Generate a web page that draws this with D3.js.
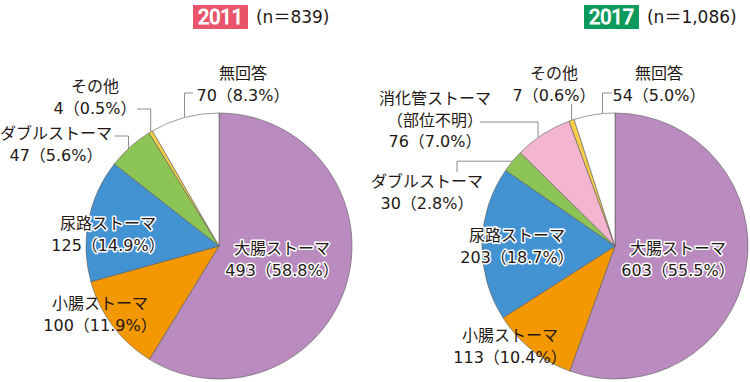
<!DOCTYPE html>
<html>
<head>
<meta charset="utf-8">
<script src="https://cdn.jsdelivr.net/npm/d3@7"></script>
<style>
  body { margin: 0; background: #fff; }
  svg { display: block; font-family: "DejaVu Sans", "Noto Sans CJK JP", sans-serif; }
</style>
</head>
<body>
<svg id="chart" width="750" height="382"></svg>
<script>
// data
const years = ["2011", "2017"];
const totals = ["839", "1,086"];
const cats2011 = ["大腸ストーマ", "小腸ストーマ", "尿路ストーマ", "ダブルストーマ", "その他", "無回答"];
const vals2011 = [493, 100, 125, 47, 4, 70];
const pcts2011 = ["58.8", "11.9", "14.9", "5.6", "0.5", "8.3"];
const cats2017 = ["大腸ストーマ", "小腸ストーマ", "尿路ストーマ", "ダブルストーマ", "消化管ストーマ", "その他", "無回答"];
const vals2017 = [603, 113, 203, 30, 76, 7, 54];
const pcts2017 = ["55.5", "10.4", "18.7", "2.8", "7.0", "0.6", "5.0"];

const colors = {
  "大腸ストーマ": "#b98bbe",
  "小腸ストーマ": "#f39800",
  "尿路ストーマ": "#4393d3",
  "ダブルストーマ": "#8cc455",
  "消化管ストーマ": "#f3b5d0",
  "その他": "#f8d048",
  "無回答": "#ffffff"
};
const badgeColors = ["#e9546b", "#0b9a5b"];
const textColor = "#231815";
const leaderColor = "#8c8c8c";

// layout for each pie: label position (center x, first baseline), and leader shape
const layouts = [
  {
    cx: 219, cy: 246, r: 133, badgeX: 193,
    labels: {
      "大腸ストーマ": { x: 282, y: 254, halo: true },
      "小腸ストーマ": { x: 100, y: 309, halo: false },
      "尿路ストーマ": { x: 108, y: 229, halo: true },
      "ダブルストーマ": { x: 56, y: 139, leader: { t: 0.45, type: "up", elbowY: 136, endX: 115 } },
      "その他": { x: 95, y: 92, leader: { t: 0.5, type: "up", elbowY: 109, endX: 137 } },
      "無回答": { x: 243, y: 79, leader: { t: 0.5, type: "up", elbowY: 93, endX: 193 } }
    }
  },
  {
    cx: 615, cy: 246, r: 133, badgeX: 584,
    labels: {
      "大腸ストーマ": { x: 678, y: 254, halo: true },
      "小腸ストーマ": { x: 510, y: 341, halo: false },
      "尿路ストーマ": { x: 517, y: 241, halo: true },
      "ダブルストーマ": { x: 427, y: 187, leader: { t: 0.5, type: "side", elbowX: 457, endY: 172 } },
      "消化管ストーマ": { x: 435, y: 104, extra: "（部位不明）", leader: { t: 0.4, type: "up", elbowY: 122, endX: 480 } },
      "その他": { x: 554, y: 79, leader: { t: 0.5, type: "up", elbowY: 104 } },
      "無回答": { x: 659, y: 79, leader: { t: 0.7, type: "up", elbowY: 93, endX: 612 } }
    }
  }
];

const svg = d3.select("#chart");
const pie = d3.pie().sort(null).value(d => d.value);

function drawPie(i, cats, vals, pcts) {
  const lay = layouts[i];
  const rows = cats.map((c, k) => ({ name: c, value: vals[k], pct: pcts[k] }));
  const arcs = pie(rows);
  const arc = d3.arc().innerRadius(0).outerRadius(lay.r);
  const g = svg.append("g");
  const pg = g.append("g").attr("transform", `translate(${lay.cx},${lay.cy})`);

  pg.selectAll("path")
    .data(arcs)
    .join("path")
    .attr("d", arc)
    .attr("fill", d => colors[d.data.name])
    .attr("stroke", "#5a5a5a")
    .attr("stroke-width", 0.6);

  // leader lines
  arcs.forEach(function(d) {
    const lab = lay.labels[d.data.name];
    if (!lab.leader) return;
    const ld = lab.leader;
    const a = d.startAngle + (d.endAngle - d.startAngle) * ld.t;
    const px = lay.cx + lay.r * Math.sin(a);
    const py = lay.cy - lay.r * Math.cos(a);
    let pts;
    if (ld.type == "up") {
      pts = [[px, py], [px, ld.elbowY]];
      if (ld.endX != undefined) pts.push([ld.endX, ld.elbowY]);
    } else {
      pts = [[px, py], [ld.elbowX, py], [ld.elbowX, ld.endY]];
    }
    g.append("path")
      .attr("d", d3.line()(pts))
      .attr("fill", "none")
      .attr("stroke", leaderColor)
      .attr("stroke-width", 1);
  });

  // labels
  arcs.forEach(function(d) {
    const lab = lay.labels[d.data.name];
    const lines = [d.data.name];
    if (lab.extra) lines.push(lab.extra);
    lines.push(d.data.value + "（" + d.data.pct + "%）");
    const t = g.append("text")
      .attr("text-anchor", "middle")
      .attr("font-size", 16)
      .attr("fill", textColor);
    if (lab.halo) {
      t.attr("stroke", "#fff").attr("stroke-width", 3)
       .attr("stroke-linejoin", "round").attr("paint-order", "stroke");
    }
    lines.forEach(function(s, k) {
      t.append("tspan").attr("x", lab.x).attr("y", lab.y + k * 21.5).text(s);
    });
  });

  // year badge (regular weight thickened by a stroke)
  const bt = g.append("text")
    .attr("class", "badge")
    .attr("x", lay.badgeX + 5)
    .attr("y", 24)
    .style("font-family", "Roboto, 'Open Sans', sans-serif")
    .attr("font-size", 20)
    .attr("fill", "#fff")
    .attr("stroke", "#fff")
    .attr("stroke-width", 1);
  bt.text(years[i]);
  const w = bt.node().getComputedTextLength();
  g.insert("rect", ".badge")
    .attr("x", lay.badgeX)
    .attr("y", 5)
    .attr("width", w + 10)
    .attr("height", 24)
    .attr("fill", badgeColors[i]);
  g.append("text")
    .attr("x", lay.badgeX + w + 18)
    .attr("y", 23)
    .attr("font-size", 17)
    .attr("fill", textColor)
    .text("(n＝" + totals[i] + ")");
}

drawPie(0, cats2011, vals2011, pcts2011);
drawPie(1, cats2017, vals2017, pcts2017);
</script>
</body>
</html>
